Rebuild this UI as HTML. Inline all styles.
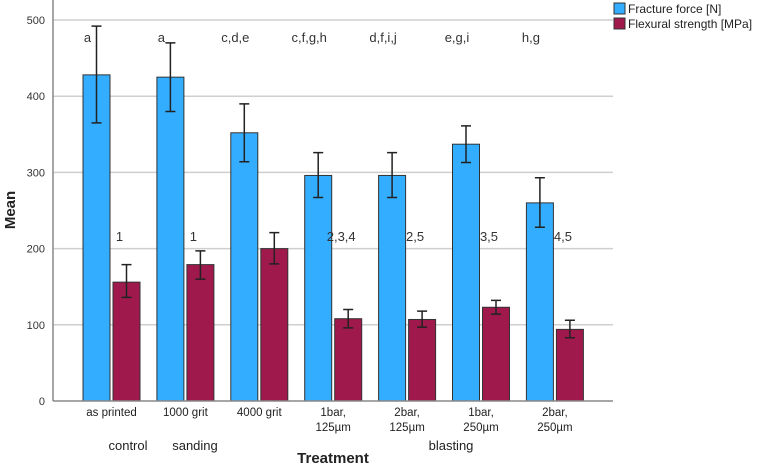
<!DOCTYPE html>
<html><head><meta charset="utf-8"><style>body{margin:0;background:#fff}svg{display:block;font-family:"Liberation Sans",sans-serif}</style></head><body>
<svg id="c" width="762" height="465"></svg>
<script>
const categories=[["as printed"],["1000 grit"],["4000 grit"],["1bar,","125µm"],["2bar,","125µm"],["1bar,","250µm"],["2bar,","250µm"]];
const forceMean=[428,425,352,296,296,337,260];
const forceHi=[492,470,390,326,326,361,293];
const forceLo=[365,380,314,267,267,313,228];
const flexMean=[156,179,200,108,107,123,94];
const flexHi=[179,197,221,120,118,132,106];
const flexLo=[136,160,180,96,97,114,83];
const forceLetters=["a","a","c,d,e","c,f,g,h","d,f,i,j","e,g,i","h,g"];
const flexLabels=["1","1","","2,3,4","2,5","3,5","4,5"];
const yTicks=[0,100,200,300,400,500];
const ns="http://www.w3.org/2000/svg",svg=document.getElementById('c');
function el(t,a,txt){const e=document.createElementNS(ns,t);for(const k in a)e.setAttribute(k,a[k]);if(txt!=null)e.textContent=txt;svg.appendChild(e);return e;}
const y=v=>401-v*0.762;
const xc=i=>111.5+i*73.9;
yTicks.forEach(t=>{
 if(t>0){const g=el('line',{x1:53,x2:613,y1:y(t),y2:y(t),stroke:'#cfcfcf','stroke-width':1.5});
 }
 const l=el('text',{x:45,y:y(t)+4,'text-anchor':'end','font-size':11,fill:'#333'},t);
 
});
function bar(x,v,hi,lo,col,name){
 const r=el('rect',{x:x,y:y(v),width:27,height:401-y(v),fill:col,stroke:'#333','stroke-width':1});
 
 const cx=x+13.5;
 const e=el('path',{d:`M${cx},${y(hi)}V${y(lo)}M${cx-5},${y(hi)}H${cx+5}M${cx-5},${y(lo)}H${cx+5}`,stroke:'#222','stroke-width':1.5,fill:'none'});
 
}
categories.forEach((c,i)=>{
 const x=xc(i);
 bar(x-28.5,forceMean[i],forceHi[i],forceLo[i],'#33adff','bar-fracture-force-'+i);
 bar(x+1.5,flexMean[i],flexHi[i],flexLo[i],'#a0194d','bar-flexural-strength-'+i);
 const a=el('text',{x:x-24,y:42,'text-anchor':'middle','font-size':13,fill:'#333'},forceLetters[i]);
 
 if(flexLabels[i]){const b=el('text',{x:x+8,y:241,'text-anchor':'middle','font-size':13,fill:'#333'},flexLabels[i]);
 }
 c.forEach((s,j)=>{const t=el('text',{x:x,y:416+j*15,'text-anchor':'middle','font-size':11.5,fill:'#222'},s);
 });
});
</script>
<svg width="0" height="0"></svg>
<script>
(function(){
const svg=document.getElementById('c'),ns="http://www.w3.org/2000/svg";
function el(t,a,txt){const e=document.createElementNS(ns,t);for(const k in a)e.setAttribute(k,a[k]);if(txt!=null)e.textContent=txt;svg.appendChild(e);return e;}
let a=el('line',{x1:53,x2:53,y1:0,y2:401,stroke:'#888','stroke-width':1.5});

a=el('line',{x1:53,x2:613,y1:401,y2:401,stroke:'#888','stroke-width':1.5});

[["control",128],["sanding",195],["blasting",451]].forEach(g=>{
 const t=el('text',{x:g[1],y:450,'text-anchor':'middle','font-size':13,fill:'#222'},g[0]);
 });
a=el('text',{x:333,y:463,'text-anchor':'middle','font-size':15,'font-weight':'bold',fill:'#222'},'Treatment');

a=el('text',{x:0,y:0,'text-anchor':'middle','font-size':15,'font-weight':'bold',fill:'#222',transform:'translate(15,210) rotate(-90)'},'Mean');

[["Fracture force [N]",'#33adff',3],["Flexural strength [MPa]",'#a0194d',18]].forEach((l,i)=>{
 const r=el('rect',{x:614,y:l[2],width:11,height:11,fill:l[1],stroke:'#333'});
 
 const t=el('text',{x:628,y:l[2]+10,'font-size':12,fill:'#222'},l[0]);
 });
})();
</script>
</body></html>
